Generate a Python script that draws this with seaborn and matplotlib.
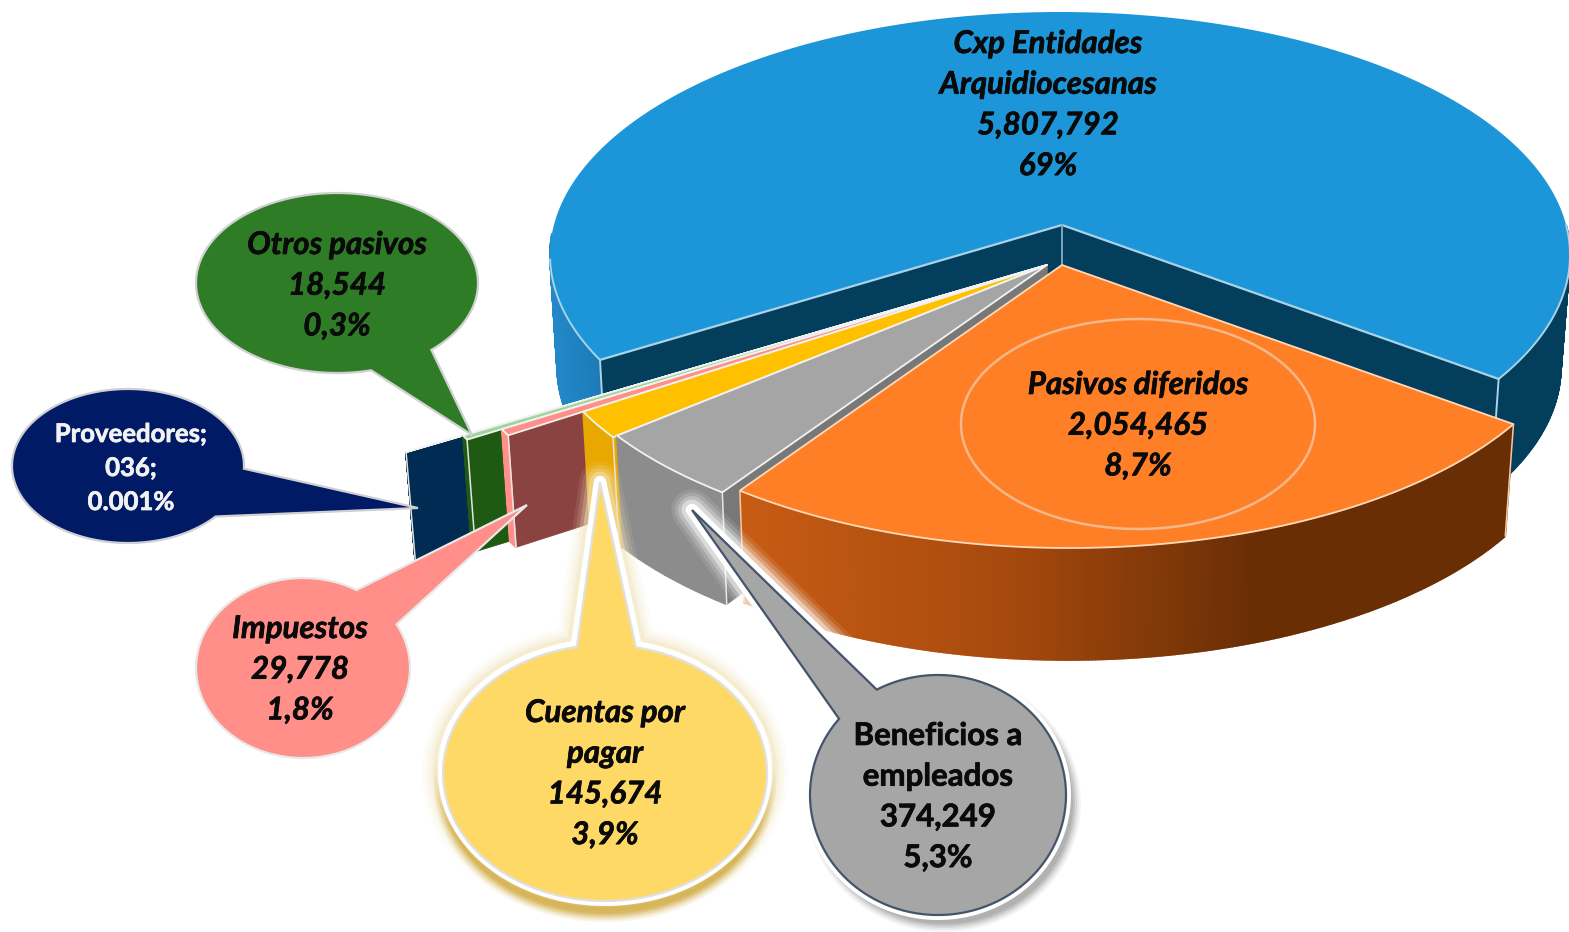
import numpy as np
import pandas as pd
import seaborn as sns
import matplotlib
matplotlib.use("Agg")
import matplotlib.pyplot as plt
import matplotlib.patheffects as pe
from matplotlib.colors import LinearSegmentedColormap
from matplotlib.patches import Polygon

# ---------- data ----------
categories = ["Pasivos diferidos", "Beneficios a empleados", "Cuentas por pagar",
              "Impuestos", "Otros pasivos", "Proveedores", "Cxp Entidades Arquidiocesanas"]
values = [2054465, 374249, 145674, 29778, 18544, 36, 5807792]
value_labels = ["2,054,465", "374,249", "145,674", "29,778", "18,544", "036;", "5,807,792"]
pct_labels = ["8,7%", "5,3%", "3,9%", "1,8%", "0,3%", "0.001%", "69%"]
label_lines = [["Pasivos diferidos"], ["Beneficios a", "empleados"], ["Cuentas por", "pagar"],
               ["Impuestos"], ["Otros pasivos"], ["Proveedores;"], ["Cxp Entidades", "Arquidiocesanas"]]

top_colors = ["#ff7f27", "#a5a5a5", "#ffc000", "#ff8f88", "#9fd49a", "#a8d8a0", "#1c96d8"]
side_colors = ["#a84c10", "#8c8c8c", "#e8a800", "#ff8f88", "#1f5a12", "#002b52", "#033f5c"]
face_colors = ["#c05a15", "#787878", "#e8a800", "#8a4340", "#1f5a12", "#002b52", "#033f5c"]

# ---------- style and layout ----------
sns.set_theme(style="white")
plt.rcParams["font.family"] = ["Lato", "DejaVu Sans"]
palette = sns.color_palette(top_colors)

W, H = 1569, 932
fig, ax = plt.subplots(figsize=(W / 100, H / 100), dpi=100)
fig.subplots_adjust(0, 0, 1, 1)
ax.set_xlim(0, W)
ax.set_ylim(H, 0)
ax.axis("off")

A, B = 510.0, 243.0
DEPTH = 112.0
START = 36.5

df = pd.DataFrame({"cat": categories, "val": values})
df["span"] = df["val"] / df["val"].sum() * 360
df["t1"] = START + df["span"].cumsum().shift(fill_value=0)
df["t2"] = df["t1"] + df["span"]

# apex x, apex y, offset (x, y) of the rim-ellipse centre from the apex, reach of the slice
geom = {
    0: (1062, 265, 7, 40, 1.00),
    1: (1047, 265, 0, 40, 1.00),
    2: (1047, 265, 0, 40, 1.01),
    3: (1047, 265, 0, 40, 1.185),
    4: (1047, 265, 0, 40, 1.265),
    5: (1047, 265, 0, 40, 1.395),
    6: (1062, 225, -2, 30, 1.00),
}


def poly(pts, **kw):
    """All marks share one zorder so that they paint in the order they are added."""
    ax.add_patch(Polygon(pts, closed=True, zorder=2, **kw))


def rim(i, t):
    """Point on the slice's outer rim at data angle t (degrees)."""
    ax0, ay0, ox, oy, reach = geom[i]
    t = np.radians(t)
    dx, dy = np.cos(t) * A, np.sin(t) * B
    a, b = A * reach, B * reach
    qa = (dx / a) ** 2 + (dy / b) ** 2
    qb = -2 * (dx * ox / a ** 2 + dy * oy / b ** 2)
    qc = (ox / a) ** 2 + (oy / b) ** 2 - 1
    s = (-qb + np.sqrt(qb ** 2 - 4 * qa * qc)) / (2 * qa)
    return np.array([ax0 + s * dx, ay0 + s * dy])


def down(p):
    return np.array([p[0] - 0.016 * (p[0] - 1000), p[1] + DEPTH])


def side_rim(i, ta, tb, color=None, cmap=None, x0=0, x1=1, n=120):
    ts = np.linspace(ta, tb, n)
    pts = [rim(i, t) for t in ts]
    for p, q in zip(pts[:-1], pts[1:]):
        c = color if cmap is None else cmap((0.5 * (p[0] + q[0]) - x0) / (x1 - x0))
        poly([p, q, down(q), down(p)], fc=c, ec=c, lw=1.2)


def radial_face(i, t, color):
    ax0, ay0 = geom[i][:2]
    p = rim(i, t)
    apex = np.array([ax0, ay0])
    poly([apex, p, down(p), down(apex)], fc=color, ec=color, lw=0.5)


def top_face(i, t1, t2, color, edge):
    ax0, ay0 = geom[i][:2]
    pts = [rim(i, t) for t in np.linspace(t1, t2, 160)]
    poly([(ax0, ay0)] + pts, fc=color, ec=edge, lw=1.3, joinstyle="round")


orange_cmap = LinearSegmentedColormap.from_list("o", ["#c65c14", "#a84a0e", "#6a2e05", "#6a2e05"])
blue_left = LinearSegmentedColormap.from_list("b", ["#2289c8", "#1c78b4"])

# --- large blue slice, drawn first
i = 6
t1, t2 = df.loc[i, "t1"], df.loc[i, "t2"]
side_rim(i, t1, 178, cmap=blue_left, x0=550, x1=610)
side_rim(i, 360, t2, color=side_colors[i])
radial_face(i, t1, face_colors[i])
radial_face(i, t2, face_colors[i])
poly([rim(i, t) for t in np.linspace(t1, t2, 300)] + [(geom[i][0], geom[i][1])], fc=palette[i], ec="none")
edge = "#a9d3e8"
for t in (t1, t2):
    p = rim(i, t)
    ax.plot([geom[i][0], p[0]], [geom[i][1], p[1]], color=edge, lw=1.6)
    q = down(p)
    ax.plot([p[0], q[0]], [p[1], q[1]], color=edge, lw=1.4)
ax.plot([geom[i][0], geom[i][0]], [geom[i][1], geom[i][1] + DEPTH], color="#7fa6ba", lw=1.4)
arc = np.array([rim(i, t) for t in np.linspace(t1, 172, 60)])
ax.plot(arc[:, 0], arc[:, 1], color=edge, lw=1.4)
arc = np.array([rim(i, t) for t in np.linspace(360, t2, 60)])
ax.plot(arc[:, 0], arc[:, 1], color=edge, lw=1.4)

# --- thin slices from the back to the front
for i in (5, 4, 3, 2, 1):
    t1, t2 = df.loc[i, "t1"], df.loc[i, "t2"]
    radial_face(i, t1, face_colors[i])
    side_rim(i, t1, t2, color=side_colors[i], n=12)
    p = rim(i, t1)
    q = down(p)
    ax.plot([p[0], q[0]], [p[1], q[1]], color="#e4e4e4", lw=1.1)
    top_face(i, t1, t2, palette[i], "#f2f2f2")

# --- orange slice
i = 0
t1, t2 = df.loc[i, "t1"], df.loc[i, "t2"]
side_rim(i, t1, t2, cmap=orange_cmap, x0=745, x1=1510, n=300)
top_face(i, t1, t2, palette[i], "#ffd9b8")
for t in (t1, t2):
    p = rim(i, t)
    q = down(p)
    ax.plot([p[0], q[0]], [p[1], q[1]], color="#f6c9a4", lw=1.1)


# --- callouts
def callout(cx, cy, rx, ry, tip, a1, a2):
    ang = np.radians(np.linspace(a2, a1 + 360, 200))
    pts = np.c_[cx + rx * np.cos(ang), cy + ry * np.sin(ang)]
    return np.vstack([pts, tip])


shapes = {
    4: dict(cx=337, cy=283, rx=141, ry=90, tip=(472, 435), a1=48, a2=76),
    5: dict(cx=128, cy=466, rx=116, ry=77, tip=(418, 508), a1=2, a2=41),
    3: dict(cx=303, cy=668, rx=107, ry=90, tip=(527, 505), a1=-60, a2=-29),
    2: dict(cx=605, cy=773, rx=162, ry=128, tip=(600, 482), a1=-100, a2=-79),
    1: dict(cx=938, cy=795, rx=128, ry=120, tip=(692, 510), a1=-140.6, a2=-118.6),
}
fills = {4: "#2e7d26", 5: "#001a66", 3: "#ff8f88", 2: "#ffd966", 1: "#a6a6a6"}
edges = {4: "#d0d0d0", 5: "#d0d0d0", 3: "#e8e8e8", 2: "#e0e0e0", 1: "#44546a"}

# soft halos and shadows below the two large callouts
ang = np.radians(np.linspace(0, 360, 200))
for i, shadow, tint, dx, dy in ((2, "#c99a1e", "#f3e6bf", 0, 12), (1, "#8a8a8a", "#ffffff", 6, 8)):
    s = shapes[i]
    outline = callout(**s)
    for lw, alpha in ((30, .10), (25, .16), (20, .25), (15, .45)):
        poly(outline, fc=tint, ec=tint, lw=lw, alpha=alpha, joinstyle="round")
    poly(outline, fc="white", ec="white", lw=9, joinstyle="round")
    for grow, alpha in ((9, .08), (7, .12), (5, .18), (3, .25), (1, .3)):
        e = np.c_[s["cx"] + dx + (s["rx"] + grow) * np.cos(ang), s["cy"] + dy + (s["ry"] + grow) * np.sin(ang)]
        poly(e, fc=shadow, ec="none", alpha=alpha)
    e = np.c_[s["cx"] + (s["rx"] + 5) * np.cos(ang), s["cy"] + (s["ry"] + 5) * np.sin(ang)]
    poly(e, fc="white", ec="none")

for i, s in shapes.items():
    poly(callout(**s), fc=fills[i], ec=edges[i], lw=1.6, joinstyle="miter")

# ring on the orange slice
ax.plot(1138 + 177 * np.cos(ang), 424 + 105 * np.sin(ang), color="#f5b88c", lw=1.8)

# --- labels
positions = {0: (1138, 385), 1: (938, 736), 2: (605, 713), 3: (300, 629),
             4: (337, 245), 5: (131, 434), 6: (1048, 44)}
for i, (x, y) in positions.items():
    lines = label_lines[i] + [value_labels[i], pct_labels[i]]
    plain = i in (1, 5)
    step = 34 if i == 5 else 40.7
    col = "#f2f2f2" if i == 5 else "#0a0a0a"
    for k, line in enumerate(lines):
        ax.text(x, y + k * step, line, ha="center", va="center",
                fontsize=18.5 if i == 5 else 22.5,
                fontweight="bold", fontstyle="normal" if plain else "italic", color=col,
                path_effects=[pe.withStroke(linewidth=0.5, foreground=col)])

fig.savefig("out.png", dpi=100, facecolor="white")
